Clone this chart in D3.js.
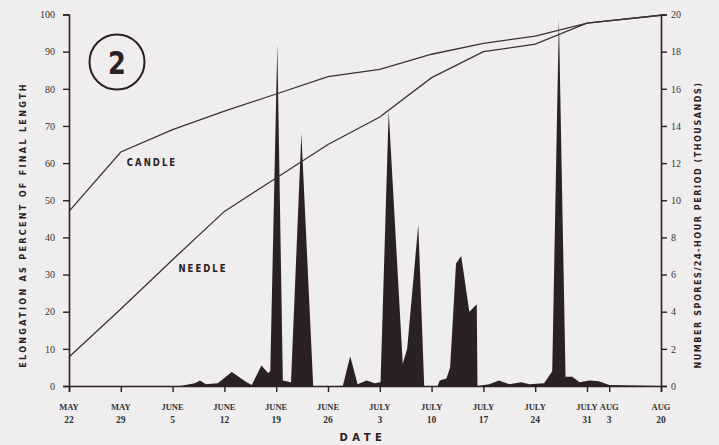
<!DOCTYPE html>
<html><head><meta charset="utf-8">
<script src="https://cdn.jsdelivr.net/npm/d3@7"></script>
<style>
html,body{margin:0;padding:0;background:#efedee;}
svg{display:block;}
</style></head>
<body>
<svg id="chart" width="719" height="445"></svg>
<script>
// ---- data ----
const lineDays = [0, 7, 14, 21, 28, 35, 42, 49, 56, 63, 70, 80];
const candle   = [47, 63, 69, 74, 78.6, 83.3, 85.2, 89.3, 92.2, 94.2, 97.7, 99.8];
const needle   = [7.8, 20.7, 34, 47, 56, 65, 72.4, 83, 90, 92, 97.7, 99.8];

const sporeDays = [0, 15, 17, 17.7, 18.5, 20.1, 22, 24, 24.7, 26, 26.9, 27.2, 28.15, 28.9, 30, 31.4, 33,
  37, 38, 39, 40.2, 41.3, 42.1, 43.2, 45.1, 45.7, 47.2, 48, 49.8, 50.1, 51, 51.5, 52.3, 53, 54.1, 55.1, 55.2,
  56.8, 58.1, 59.5, 61.1, 62.2, 64.2, 65.3, 66.2, 67.1, 68, 69, 70.3, 71.6, 73, 80];
const spores = [0, 0, 0.15, 0.3, 0.1, 0.15, 0.75, 0.2, 0.05, 1.1, 0.7, 0.8, 18.4, 0.3, 0.2, 13.6, 0,
  0, 1.6, 0.1, 0.3, 0.15, 0.2, 14.8, 1.2, 2.0, 8.7, 0, 0, 0.3, 0.4, 1.0, 6.6, 7.0, 4.0, 4.4, 0,
  0.1, 0.3, 0.1, 0.2, 0.1, 0.15, 0.8, 19.8, 0.5, 0.5, 0.2, 0.3, 0.25, 0.05, 0];

const tickDays   = [0, 7, 14, 21, 28, 35, 42, 49, 56, 63, 70, 73, 80];
const tickMonths = ["MAY", "MAY", "JUNE", "JUNE", "JUNE", "JUNE", "JULY", "JULY", "JULY", "JULY", "JULY", "AUG", "AUG"];
const tickDates  = ["22", "29", "5", "12", "19", "26", "3", "10", "17", "24", "31", "3", "20"];
const leftTicks  = [0, 10, 20, 30, 40, 50, 60, 70, 80, 90, 100];
const rightTicks = [0, 2, 4, 6, 8, 10, 12, 14, 16, 18, 20];

// ---- drawing ----
const svg = d3.select("#chart");
const ink = "#2b2124";
const x  = d3.scaleLinear().domain([0, 80]).range([69, 661]);
const yL = d3.scaleLinear().domain([0, 100]).range([386, 14.5]);
const yR = d3.scaleLinear().domain([0, 20]).range([386, 14.5]);

// spore area
const sporeData = sporeDays.map((d, i) => ({d, v: spores[i]}));
svg.append("path")
  .datum(sporeData)
  .attr("fill", ink)
  .attr("d", d3.area().x(p => x(p.d)).y0(yR(0)).y1(p => yR(p.v)));

// elongation lines
const lineGen = d3.line().x(p => x(p.d)).y(p => yL(p.v));
[candle, needle].forEach(series => {
  svg.append("path")
    .datum(lineDays.map((d, i) => ({d, v: series[i]})))
    .attr("fill", "none")
    .attr("stroke", "#3a3234")
    .attr("stroke-width", 1.3)
    .attr("d", lineGen);
});

// axes
const serif = "'Liberation Serif', 'DejaVu Serif', serif";
const gL = svg.append("g").attr("transform", `translate(${x(0)},0)`)
  .call(d3.axisLeft(yL).tickValues(leftTicks).tickSize(6).tickPadding(8).tickFormat(d3.format("d")));
const gR = svg.append("g").attr("transform", `translate(${x(80)},0)`)
  .call(d3.axisRight(yR).tickValues(rightTicks).tickSize(6).tickPadding(4).tickFormat(d3.format("d")));
const gB = svg.append("g").attr("transform", `translate(0,${yL(0)})`)
  .call(d3.axisBottom(x).tickValues(tickDays).tickSize(6).tickFormat(""));

[gL, gR, gB].forEach(g => {
  g.select(".domain").attr("stroke", ink).attr("stroke-width", 1.6);
  g.selectAll(".tick line").attr("stroke", ink).attr("stroke-width", 1.4);
  g.selectAll("text").attr("fill", "#333").style("font-family", serif).style("font-size", "10px");
});

// bottom two-line tick labels
const bl = svg.append("g").style("font-family", serif).style("font-size", "8.5px").attr("fill", "#333")
  .attr("font-weight", "bold").attr("text-anchor", "middle");
tickDays.forEach((d, i) => {
  bl.append("text").attr("x", x(d)).attr("y", 410).text(tickMonths[i]);
  bl.append("text").attr("x", x(d)).attr("y", 423).style("font-size", "9.5px").text(tickDates[i]);
});

// titles
const cond = "'DejaVu Sans', sans-serif";
svg.append("text")
  .attr("transform", "translate(26,225) rotate(-90) scale(0.85,1)")
  .attr("text-anchor", "middle")
  .style("font-family", cond).style("font-size", "9.5px").style("font-weight", "bold")
  .style("letter-spacing", "2.7px")
  .attr("fill", ink)
  .text("ELONGATION AS PERCENT OF FINAL LENGTH");

svg.append("text")
  .attr("transform", "translate(701,225) rotate(-90) scale(0.85,1)")
  .attr("text-anchor", "middle")
  .style("font-family", cond).style("font-size", "9.5px").style("font-weight", "bold")
  .style("letter-spacing", "1.8px")
  .attr("fill", ink)
  .text("NUMBER SPORES/24-HOUR PERIOD (THOUSANDS)");

svg.append("text")
  .attr("x", 363).attr("y", 441).attr("text-anchor", "middle")
  .style("font-family", cond).style("font-size", "10px").style("font-weight", "bold")
  .style("letter-spacing", "4.5px").attr("fill", ink)
  .text("DATE");

// series labels
[["CANDLE", 152, 166], ["NEEDLE", 203, 272]].forEach(([t, cx, cy]) => {
  svg.append("text").attr("transform", `translate(${cx},${cy}) scale(0.85,1)`).attr("text-anchor", "middle")
    .style("font-family", cond).style("font-size", "10px").style("font-weight", "bold")
    .style("letter-spacing", "2.4px").attr("fill", ink).text(t);
});

// panel number
svg.append("circle").attr("cx", 117).attr("cy", 62).attr("r", 27.5)
  .attr("fill", "none").attr("stroke", ink).attr("stroke-width", 2);
svg.append("text").attr("transform", "translate(117,74) scale(0.8,1)").attr("text-anchor", "middle")
  .style("font-family", cond).style("font-size", "32px").style("font-weight", "bold")
  .attr("fill", ink).text("2");
</script>
</body></html>
